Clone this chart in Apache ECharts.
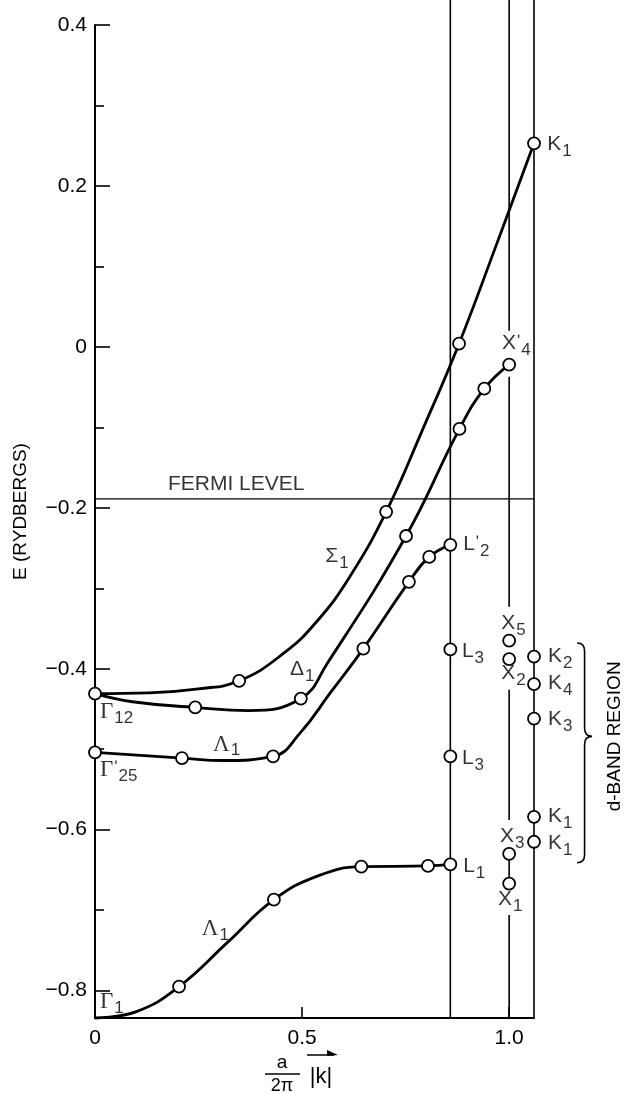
<!DOCTYPE html>
<html><head><meta charset="utf-8">
<script src="https://cdn.jsdelivr.net/npm/echarts@6/dist/echarts.min.js"></script>
<style>html,body{margin:0;padding:0;background:#fff}#c{width:626px;height:1094px}</style>
</head><body><div id="c"></div>
<script>
// ---------- axes ----------
const yRange = [-0.834, 0.4];
const xRange = [0, 1.06];
const yMajorTicks = [-0.8, -0.6, -0.4, -0.2, 0, 0.2, 0.4];
const yMinorTicks = [-0.7, -0.5, -0.3, -0.1, 0.1, 0.3];
const xTickLabels = [0, 0.5, 1.0];
const xTicks = [0.5, 1.0];
const lineTop = 0.431;

// ---------- symmetry points / levels ----------
const kL = 0.858, kX = 1.0, kK = 1.06;
const fermiLevel = -0.189;
// X line is broken around its labels: [from, to] energy segments
const xLineSegments = [[0.431, 0.02], [-0.037, -0.323], [-0.426, -0.588], [-0.637, -0.660], [-0.706, -0.834]];

// ---------- bands (curve points and computed points) ----------
const sigma1Curve = [[0,-0.431],[0.13,-0.430],[0.25,-0.425],[0.348,-0.415],[0.455,-0.381],[0.536,-0.341],[0.616,-0.285],[0.703,-0.205],[0.79,-0.104],[0.879,0.004],[0.97,0.128],[1.06,0.253]];
const sigma1Points = [[0,-0.431],[0.348,-0.415],[0.703,-0.205],[0.879,0.004],[1.06,0.253]];

const delta1Curve = [[0,-0.431],[0.09,-0.441],[0.242,-0.448],[0.37,-0.452],[0.497,-0.437],[0.56,-0.394],[0.751,-0.235],[0.88,-0.102],[0.94,-0.052],[1.0,-0.022]];
const delta1Points = [[0.242,-0.448],[0.497,-0.437],[0.751,-0.235],[0.88,-0.102],[0.94,-0.052],[1.0,-0.022]];

const lambda1UpperCurve = [[0,-0.504],[0.21,-0.511],[0.31,-0.514],[0.43,-0.509],[0.495,-0.480],[0.568,-0.430],[0.648,-0.375],[0.758,-0.292],[0.807,-0.261],[0.858,-0.246]];
const lambda1UpperPoints = [[0,-0.504],[0.21,-0.511],[0.43,-0.509],[0.648,-0.375],[0.758,-0.292],[0.807,-0.261],[0.858,-0.246]];

const lambda1LowerCurve = [[0,-0.834],[0.1,-0.826],[0.203,-0.795],[0.32,-0.740],[0.432,-0.687],[0.54,-0.657],[0.643,-0.646],[0.804,-0.645],[0.858,-0.643]];
const lambda1LowerPoints = [[0.203,-0.795],[0.432,-0.687],[0.643,-0.646],[0.804,-0.645],[0.858,-0.643]];

// isolated d-band levels at L, X, K
const lLevels = [-0.376, -0.509];
const xLevels = [-0.365, -0.388, -0.630, -0.667];
const kLevels = [-0.385, -0.419, -0.462, -0.584, -0.615];

// d-band brace: top, bottom, tip
const dBand = [-0.368, -0.641, -0.484];
const dBandX = 1.164;

// ---------- labels: [main, prime, subscript, k, E] ----------
const pointLabels = [
  ['Γ', '', '12', 0.012, -0.440],
  ['Γ', 'ʹ', '25', 0.012, -0.512],
  ['Γ', '', '1', 0.012, -0.800],
  ['Σ', '', '1', 0.556, -0.247],
  ['Δ', '', '1', 0.471, -0.388],
  ['Λ', '', '1', 0.285, -0.480],
  ['Λ', '', '1', 0.258, -0.709],
  ['K', '', '1', 1.092, 0.265],
  ['X', 'ʹ', '4', 0.983, 0.017],
  ['L', 'ʹ', '2', 0.889, -0.232],
  ['L', '', '3', 0.886, -0.365],
  ['L', '', '3', 0.886, -0.498],
  ['X', '', '5', 0.981, -0.330],
  ['X', '', '2', 0.981, -0.393],
  ['K', '', '2', 1.094, -0.371],
  ['K', '', '4', 1.094, -0.405],
  ['K', '', '3', 1.094, -0.450],
  ['K', '', '1', 1.094, -0.570],
  ['K', '', '1', 1.094, -0.604],
  ['X', '', '3', 0.978, -0.595],
  ['X', '', '1', 0.973, -0.673],
  ['L', '', '1', 0.889, -0.632]
];
const fermiLabel = ['FERMI LEVEL', 0.176, -0.157];
const yAxisTitle = 'E (RYDBERGS)';
const dBandTitle = 'd-BAND REGION';

// ---------- build ----------
const FONT = 'Liberation Sans';
const BLACK = '#000';

function richName(l) {
  const mainStyle = (l[0] === 'Γ' || l[0] === 'Λ') ? 'g' : 'm';
  let s = '{' + mainStyle + '|' + l[0] + '}';
  if (l[1]) s += '{p|' + l[1] + '}';
  if (l[2]) s += '{s|' + l[2] + '}';
  return s;
}

const markerData = []
  .concat(sigma1Points, delta1Points, lambda1UpperPoints, lambda1LowerPoints)
  .concat(lLevels.map(e => [kL, e]))
  .concat(xLevels.map(e => [kX, e]))
  .concat(kLevels.map(e => [kK, e]));

function bandSeries(data) {
  return {
    type: 'line', data: data, smooth: 0.45, showSymbol: false, symbol: 'none',
    lineStyle: { color: BLACK, width: 2.8 }, z: 5, clip: false, silent: true
  };
}
function vline(k, e0, e1, w) {
  return {
    type: 'line', data: [[k, e0], [k, e1]], showSymbol: false, symbol: 'none',
    lineStyle: { color: BLACK, width: w }, z: 3, clip: false, silent: true
  };
}

const series = [
  vline(kL, yRange[0], lineTop, 1.6),
  vline(kK, yRange[0], lineTop, 1.6)
].concat(xLineSegments.map(s => vline(kX, s[0], s[1], 1.6)));

series.push({
  type: 'line', data: [[xRange[0], fermiLevel], [kK, fermiLevel]], showSymbol: false, symbol: 'none',
  lineStyle: { color: BLACK, width: 1.3 }, z: 3, clip: false, silent: true
});
series.push(bandSeries(sigma1Curve), bandSeries(delta1Curve), bandSeries(lambda1UpperCurve), bandSeries(lambda1LowerCurve));
series.push({
  type: 'scatter', data: markerData, symbol: 'circle', symbolSize: 12, clip: false, z: 10,
  itemStyle: { color: '#fff', borderColor: BLACK, borderWidth: 1.8, opacity: 1 }, silent: true
});

const richStyles = {
  m: { fontFamily: FONT, fontSize: 21, lineHeight: 22, verticalAlign: 'top', color: BLACK },
  g: { fontFamily: 'Liberation Serif', fontSize: 23, lineHeight: 22, verticalAlign: 'top', color: BLACK },
  s: { fontFamily: FONT, fontSize: 17, lineHeight: 18, verticalAlign: 'top', padding: [9, 0, 0, 1], color: BLACK },
  p: { fontFamily: FONT, fontSize: 17, lineHeight: 16, verticalAlign: 'top', padding: [0, 0, 0, 1], color: BLACK },
  f: { fontFamily: FONT, fontSize: 21, lineHeight: 22, verticalAlign: 'top', color: BLACK }
};

const labelData = pointLabels.map(l => ({ name: richName(l), value: [l[3], l[4]] }));
labelData.push({ name: '{f|' + fermiLabel[0] + '}', value: [fermiLabel[1], fermiLabel[2]] });

series.push({
  type: 'scatter', data: labelData, symbolSize: 1, clip: false, z: 12, silent: true,
  itemStyle: { color: 'rgba(0,0,0,0)' },
  label: {
    show: true, position: 'inside', align: 'left', verticalAlign: 'top',
    formatter: '{b}', color: BLACK, rich: richStyles
  }
});

series.push({
  type: 'custom', data: [[dBandX, dBand[0], dBand[1], dBand[2]]], clip: false, z: 8, silent: true,
  renderItem: function (params, api) {
    const top = api.coord([api.value(0), api.value(1)]);
    const bot = api.coord([api.value(0), api.value(2)]);
    const mid = api.coord([api.value(0), api.value(3)]);
    const x0 = top[0], w = 15, r = 8, xs = x0 + w / 2;
    const d = 'M' + x0 + ' ' + top[1] + ' Q' + xs + ' ' + top[1] + ' ' + xs + ' ' + (top[1] + r) +
      ' L' + xs + ' ' + (mid[1] - r) + ' Q' + xs + ' ' + mid[1] + ' ' + (x0 + w) + ' ' + mid[1] +
      ' Q' + xs + ' ' + mid[1] + ' ' + xs + ' ' + (mid[1] + r) +
      ' L' + xs + ' ' + (bot[1] - r) + ' Q' + xs + ' ' + bot[1] + ' ' + x0 + ' ' + bot[1];
    return {
      type: 'group', children: [
        { type: 'path', shape: { pathData: d }, style: { fill: 'none', stroke: BLACK, lineWidth: 1.6 } },
        { type: 'text', x: x0 + w + 23, y: mid[1], rotation: Math.PI / 2,
          style: { text: dBandTitle, fontSize: 19, fontFamily: FONT, fill: BLACK, align: 'center', verticalAlign: 'middle' } }
      ]
    };
  }
});

function fmt(v) {
  if (Math.abs(v) < 1e-9) return '0';
  return (v < 0 ? '−' : '') + Math.abs(v).toFixed(1);
}

const option = {
  backgroundColor: '#fff',
  animation: false,
  grid: { left: 95, right: 92, top: 25, bottom: 76 },
  xAxis: {
    type: 'value', min: xRange[0], max: xRange[1],
    axisLine: { show: true, onZero: false, lineStyle: { color: BLACK, width: 2 } },
    axisTick: { show: true, inside: true, length: 11, customValues: xTicks, lineStyle: { color: BLACK, width: 1.6 } },
    axisLabel: { show: true, customValues: xTickLabels, formatter: fmt, margin: 10, color: BLACK, fontSize: 21, fontFamily: FONT },
    splitLine: { show: false }
  },
  yAxis: [{
    type: 'value', min: yRange[0], max: yRange[1],
    name: yAxisTitle, nameLocation: 'middle', nameGap: 65, nameRotate: 90,
    nameTextStyle: { color: BLACK, fontSize: 19, fontFamily: FONT, padding: [0, 0, 0, 20] },
    axisLine: { show: true, onZero: false, lineStyle: { color: BLACK, width: 2 } },
    axisTick: { show: true, inside: true, length: 15, customValues: yMajorTicks, lineStyle: { color: BLACK, width: 1.6 } },
    axisLabel: { show: true, customValues: yMajorTicks, formatter: fmt, margin: 8, color: BLACK, fontSize: 21, fontFamily: FONT },
    splitLine: { show: false }
  }, {
    type: 'value', min: yRange[0], max: yRange[1], position: 'left',
    axisLine: { show: false },
    axisTick: { show: true, inside: true, length: 9, customValues: yMinorTicks, lineStyle: { color: BLACK, width: 1.6 } },
    axisLabel: { show: false },
    splitLine: { show: false }
  }],
  graphic: [
    { type: 'text', x: 282, y: 1063, style: { text: 'a', fontSize: 19, fontFamily: FONT, fill: BLACK, align: 'center', verticalAlign: 'middle' } },
    { type: 'line', shape: { x1: 265, y1: 1074, x2: 300, y2: 1074 }, style: { stroke: BLACK, lineWidth: 1.5 } },
    { type: 'text', x: 282, y: 1086, style: { text: '2π', fontSize: 18, fontFamily: FONT, fill: BLACK, align: 'center', verticalAlign: 'middle' } },
    { type: 'text', x: 321, y: 1077, style: { text: '|k|', fontSize: 22, fontFamily: FONT, fill: BLACK, align: 'center', verticalAlign: 'middle' } },
    { type: 'line', shape: { x1: 307, y1: 1055, x2: 334, y2: 1055 }, style: { stroke: BLACK, lineWidth: 1.5 } },
    { type: 'polygon', shape: { points: [[338, 1055], [327, 1050], [327, 1056]] }, style: { fill: BLACK } }
  ],
  series: series
};

const chart = echarts.init(document.getElementById('c'), null, { renderer: 'canvas' });
chart.setOption(option);
</script>
</body></html>
